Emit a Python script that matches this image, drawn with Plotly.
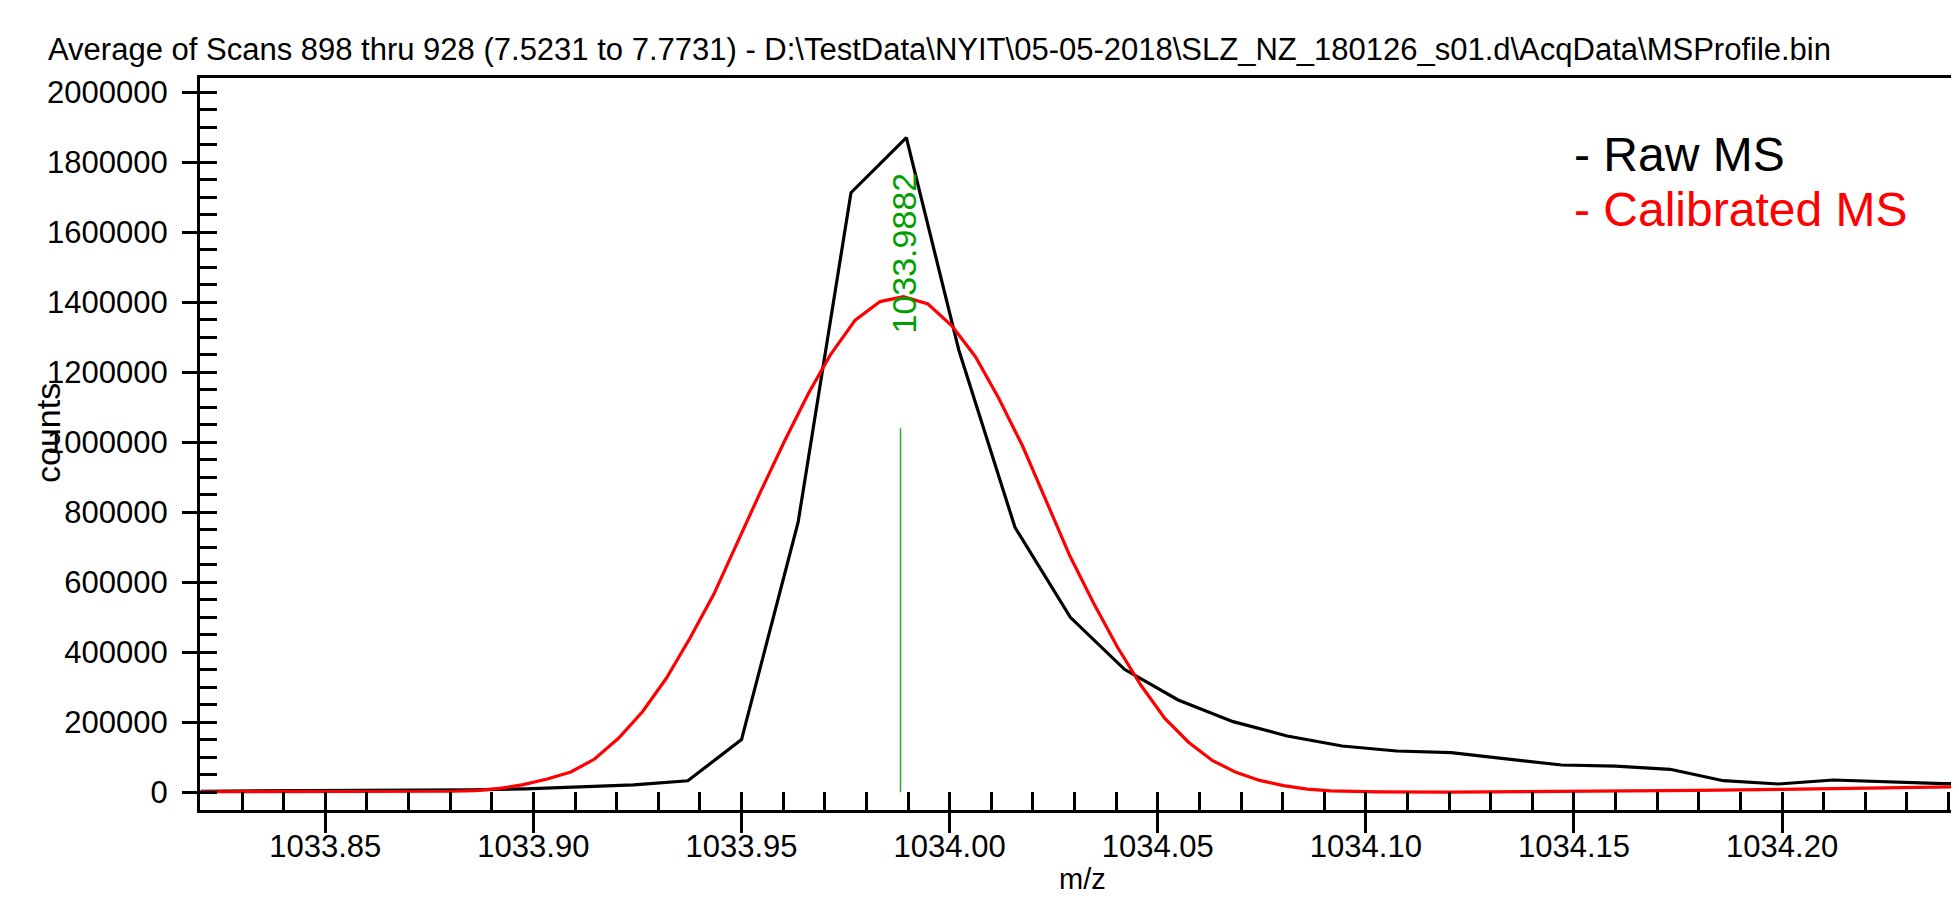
import plotly.graph_objects as go

# ---------------- data ----------------
raw_mz = [1033.8201, 1033.8331, 1033.8461, 1033.8591, 1033.8721, 1033.8851, 1033.8981,
          1033.9111, 1033.9241, 1033.9371, 1033.9500, 1033.9636, 1033.9763, 1033.9896,
          1034.0022, 1034.0157, 1034.0290, 1034.0420, 1034.0549, 1034.0681, 1034.0811,
          1034.0943, 1034.1074, 1034.1205, 1034.1337, 1034.1470, 1034.1600, 1034.1731,
          1034.1859, 1034.1991, 1034.2123, 1034.2255, 1034.2387, 1034.2519]
raw_counts = [3000, 3500, 4000, 4500, 5500, 7000, 10000,
              15000, 21000, 33000, 150600, 771700, 1713000, 1870300,
              1263700, 757000, 500000, 351400, 263700, 201800, 160900,
              132300, 118000, 113200, 95000, 78000, 75000, 65700,
              33100, 23700, 35100, 30300, 25000, 23000]

cal_mz = [1033.8200, 1033.8400, 1033.8600, 1033.8750, 1033.8805, 1033.8862, 1033.8919,
          1033.8976, 1033.9033, 1033.9090, 1033.9147, 1033.9205, 1033.9262, 1033.9319,
          1033.9376, 1033.9433, 1033.9490, 1033.9547, 1033.9604, 1033.9661, 1033.9713,
          1033.9773, 1033.9833, 1033.9889, 1033.9948, 1034.0006, 1034.0062, 1034.0118,
          1034.0175, 1034.0232, 1034.0289, 1034.0346, 1034.0403, 1034.0460, 1034.0517,
          1034.0574, 1034.0631, 1034.0688, 1034.0745, 1034.0802, 1034.0859, 1034.0916,
          1034.0973, 1034.1030, 1034.1200, 1034.1400, 1034.1600, 1034.1800, 1034.2000,
          1034.2200, 1034.2426]
cal_counts = [1500, 1800, 2000, 2500, 3000, 5000, 11000,
              22000, 38000, 58000, 95000, 155000, 230000, 325000,
              440000, 565000, 715000, 862000, 1005000, 1140000, 1249000,
              1349000, 1402000, 1416000, 1395000, 1332000, 1244500, 1126000,
              990000, 835000, 675000, 540000, 415000, 305000, 211000,
              143000, 91000, 57000, 34000, 19000, 9000, 4000,
              2000, 1000, 500, 1500, 3000, 5500, 8600,
              12000, 16000]

peak_mz = 1033.9882
peak_height = 1040000
peak_label = "1033.9882"

title_text = ("Average of Scans 898 thru 928 (7.5231 to 7.7731) - "
              "D:\\TestData\\NYIT\\05-05-2018\\SLZ_NZ_180126_s01.d\\AcqData\\MSProfile.bin")
legend_labels = ["- Raw MS", "- Calibrated MS"]
x_title = "m/z"
y_title = "counts"

x_range = [1033.8199, 1034.2425]
y_range = [-50570, 2040800]

FONT = "Liberation Sans, Arial, Helvetica, sans-serif"
# page body has an 8px margin; figure sized so it ends at the window edge
W, H = 1951, 890
ML, MR, MT, MB = 192, 0, 70, 88
PW, PH = W - ML - MR, H - MT - MB
OFF = 8


def px(xpix):
    return (xpix - OFF - ML) / PW


def py(ypix):
    return (H - MB - (ypix - OFF)) / PH


fig = go.Figure()
fig.add_trace(go.Scatter(x=raw_mz, y=raw_counts, mode="lines",
                         line=dict(color="black", width=3.2), showlegend=False))
fig.add_trace(go.Scatter(x=cal_mz, y=cal_counts, mode="lines",
                         line=dict(color="red", width=3.2), showlegend=False))
fig.add_trace(go.Scatter(x=[peak_mz, peak_mz], y=[0, peak_height], mode="lines",
                         line=dict(color="rgb(50,170,50)", width=1.5),
                         xaxis="x2", yaxis="y2", showlegend=False))

fig.update_layout(
    width=W, height=H,
    margin=dict(l=ML, r=MR, t=MT, b=MB, pad=0),
    paper_bgcolor="white", plot_bgcolor="white",
    font=dict(family=FONT, color="black", size=31),
    showlegend=False,
    xaxis=dict(range=x_range, showgrid=False, zeroline=False,
               showline=True, linecolor="black", linewidth=3, mirror=True,
               ticks="outside", ticklen=20, tickwidth=2.5, tickcolor="black",
               tick0=1033.85, dtick=0.05, tickformat=".2f",
               ticklabelstandoff=-13,
               tickfont=dict(family=FONT, size=31, color="black")),
    yaxis=dict(range=y_range, showgrid=False, zeroline=False,
               showline=True, linecolor="black", linewidth=3, mirror=False,
               ticks="outside", ticklen=15, tickwidth=2.5, tickcolor="black",
               tick0=0, dtick=200000, tickformat="d",
               ticklabelstandoff=8,
               tickfont=dict(family=FONT, size=31, color="black")),
    xaxis2=dict(range=x_range, overlaying="x", anchor="y", side="bottom",
                showgrid=False, zeroline=False, showline=False,
                ticks="inside", ticklen=18, tickwidth=2.5, tickcolor="black",
                tick0=1034.0, dtick=0.01, showticklabels=False),
    yaxis2=dict(range=y_range, overlaying="y", anchor="x", side="left",
                showgrid=False, zeroline=False, showline=False,
                ticks="inside", ticklen=17, tickwidth=2.5, tickcolor="black",
                tick0=0, dtick=50000, showticklabels=False),
)

annotations = [
    dict(text=title_text, xref="paper", yref="paper", x=px(46), y=py(50),
         xanchor="left", yanchor="middle", showarrow=False,
         font=dict(family=FONT, size=31, color="black")),
    dict(text=y_title, xref="paper", yref="paper", x=px(48), y=py(433),
         xanchor="center", yanchor="middle", textangle=-90, showarrow=False,
         font=dict(family=FONT, size=34, color="black")),
    dict(text=x_title, xref="paper", yref="paper", x=px(1082), y=py(879),
         xanchor="center", yanchor="middle", showarrow=False,
         font=dict(family=FONT, size=29, color="black")),
    dict(text=legend_labels[0], xref="paper", yref="paper", x=px(1572), y=py(155),
         xanchor="left", yanchor="middle", showarrow=False,
         font=dict(family=FONT, size=48, color="black")),
    dict(text=legend_labels[1], xref="paper", yref="paper", x=px(1572), y=py(210),
         xanchor="left", yanchor="middle", showarrow=False,
         font=dict(family=FONT, size=48, color="red")),
    dict(text=peak_label, x=peak_mz, y=1540800, xref="x", yref="y",
         xanchor="center", yanchor="middle", textangle=-90, showarrow=False,
         xshift=3, font=dict(family=FONT, size=34, color="rgb(0,160,0)")),
]
fig.update_layout(annotations=annotations)

fig.write_html("out.html")
